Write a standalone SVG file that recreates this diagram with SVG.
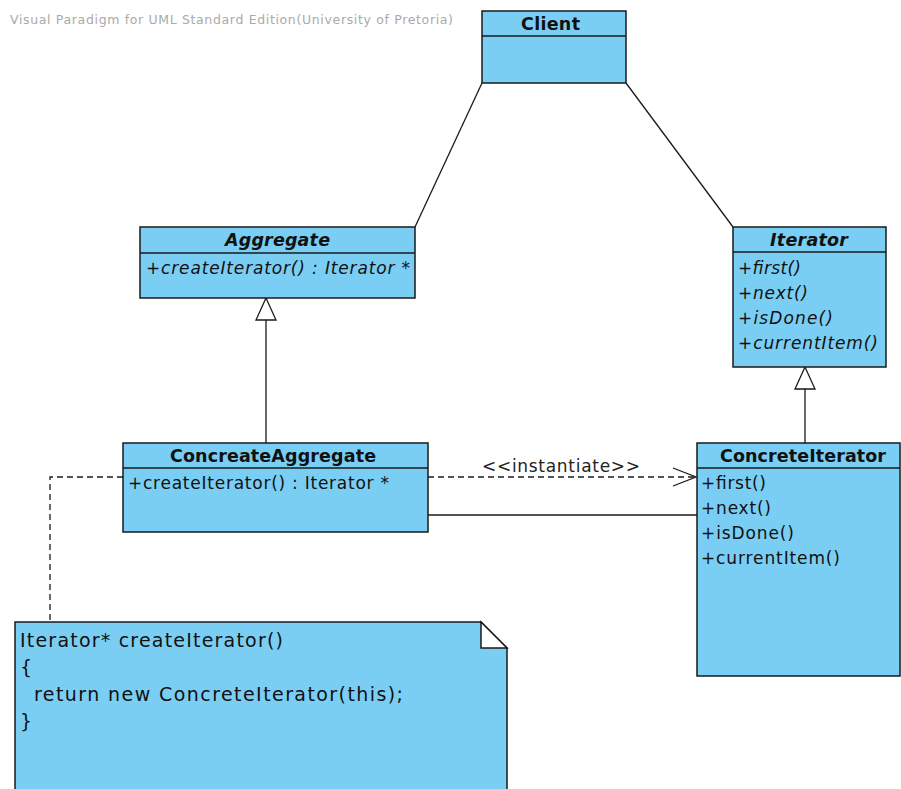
<svg xmlns="http://www.w3.org/2000/svg" width="901" height="789" viewBox="0 0 901 789">
<style>
.box{fill:#7acef4;stroke:#1a1a1a;stroke-width:1.5}
.ln{stroke:#1a1a1a;stroke-width:1.3;fill:none}
.dash{stroke:#1a1a1a;stroke-width:1.3;fill:none;stroke-dasharray:6,4}
.t{font-family:"DejaVu Sans","Liberation Sans",sans-serif;fill:#111}
.h{font-size:17.5px;font-weight:bold}
.m{font-size:17px}
.n{font-size:19px}
.i{font-style:italic}
</style>
<rect width="901" height="789" fill="#fff"/>
<text x="10" y="24" class="t" style="font-size:12.5px;fill:#aaa" textLength="443" lengthAdjust="spacing">Visual Paradigm for UML Standard Edition(University of Pretoria)</text>
<g id="connectors">
<line class="ln" x1="482" y1="83" x2="415" y2="227"/>
<line class="ln" x1="626" y1="83" x2="733" y2="227"/>
<line class="ln" x1="266" y1="320" x2="266" y2="443"/>
<polygon points="266,298 256,320 276,320" fill="#fff" stroke="#1a1a1a" stroke-width="1.3"/>
<line class="ln" x1="805" y1="389" x2="805" y2="443"/>
<polygon points="805,367 795,389 815,389" fill="#fff" stroke="#1a1a1a" stroke-width="1.3"/>
<line class="dash" x1="428" y1="477" x2="695" y2="477"/>
<polyline class="ln" points="673,468 696,477 673,486"/>
<text x="482" y="472" class="t m" style="fill:#222" textLength="158" lengthAdjust="spacing">&lt;&lt;instantiate&gt;&gt;</text>
<line class="ln" x1="428" y1="515" x2="697" y2="515"/>
<polyline class="dash" points="123,477 50,477 50,622"/>
</g>
<g id="client">
<rect class="box" x="482" y="11" width="144" height="72"/>
<line class="ln" x1="482" y1="36" x2="626" y2="36"/>
<text x="521" y="30" class="t h" textLength="59" lengthAdjust="spacing">Client</text>
</g>
<g id="aggregate">
<rect class="box" x="140" y="227" width="275" height="71"/>
<line class="ln" x1="140" y1="253" x2="415" y2="253"/>
<text x="225" y="246" class="t h i" textLength="105" lengthAdjust="spacing">Aggregate</text>
<text x="146" y="274" class="t m i" textLength="264" lengthAdjust="spacing">+createIterator() : Iterator *</text>
</g>
<g id="iterator">
<rect class="box" x="733" y="227" width="153" height="140"/>
<line class="ln" x1="733" y1="252" x2="886" y2="252"/>
<text x="770" y="246" class="t h i" textLength="78" lengthAdjust="spacing">Iterator</text>
<text x="738" y="274" class="t m i" textLength="63" lengthAdjust="spacing">+first()</text>
<text x="738" y="299" class="t m i" textLength="70" lengthAdjust="spacing">+next()</text>
<text x="738" y="324" class="t m i" textLength="95" lengthAdjust="spacing">+isDone()</text>
<text x="738" y="349" class="t m i" textLength="140" lengthAdjust="spacing">+currentItem()</text>
</g>
<g id="concreteAggregate">
<rect class="box" x="123" y="443" width="305" height="89"/>
<line class="ln" x1="123" y1="468" x2="428" y2="468"/>
<text x="170" y="462" class="t h" textLength="206" lengthAdjust="spacing">ConcreateAggregate</text>
<text x="128" y="489" class="t m" textLength="261" lengthAdjust="spacing">+createIterator() : Iterator *</text>
</g>
<g id="concreteIterator">
<rect class="box" x="697" y="443" width="203" height="233"/>
<line class="ln" x1="697" y1="468" x2="900" y2="468"/>
<text x="720" y="462" class="t h" textLength="166" lengthAdjust="spacing">ConcreteIterator</text>
<text x="701" y="489" class="t m" textLength="65" lengthAdjust="spacing">+first()</text>
<text x="701" y="514" class="t m" textLength="70" lengthAdjust="spacing">+next()</text>
<text x="701" y="539" class="t m" textLength="93" lengthAdjust="spacing">+isDone()</text>
<text x="701" y="564" class="t m" textLength="139" lengthAdjust="spacing">+currentItem()</text>
</g>
<g id="note">
<path class="box" d="M15,622 H481 L507,648 V795 H15 Z"/>
<path d="M481,622 V648 H507 Z" fill="#fff" stroke="#1a1a1a" stroke-width="1.5"/>
<text x="20" y="647" class="t n" textLength="263" lengthAdjust="spacing">Iterator* createIterator()</text>
<text x="20" y="674" class="t n">{</text>
<text x="34" y="701" class="t n" textLength="369" lengthAdjust="spacing">return new ConcreteIterator(this);</text>
<text x="20" y="728" class="t n">}</text>
</g>
</svg>
